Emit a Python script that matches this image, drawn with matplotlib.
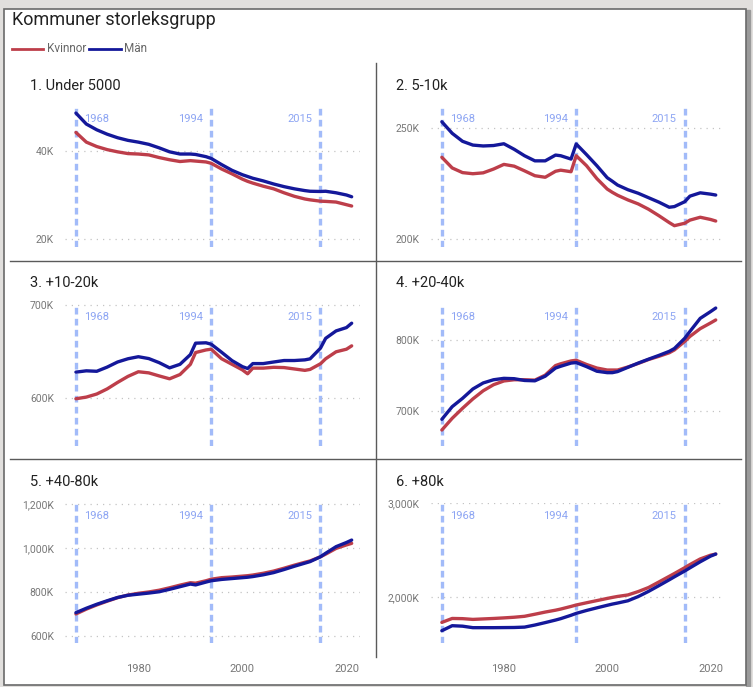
import matplotlib.pyplot as plt
from matplotlib.patches import Rectangle
from matplotlib.lines import Line2D
from matplotlib.ticker import FuncFormatter

plt.rcParams['font.family'] = ['Roboto', 'DejaVu Sans']

# data, values in thousands
years = [1968, 1970, 1972, 1974, 1976, 1978, 1980, 1982, 1984, 1986, 1988, 1990, 1991,
         1993, 1994, 1996, 1998, 2000, 2001, 2002, 2004, 2006, 2008, 2010, 2012, 2013,
         2015, 2016, 2018, 2020, 2021]

titles = ["1. Under 5000", "2. 5-10k", "3. +10-20k", "4. +20-40k", "5. +40-80k", "6. +80k"]

men_1 = [48.6, 46.1, 44.8, 43.8, 43.0, 42.4, 42.0, 41.5, 40.7, 39.8, 39.3, 39.3, 39.2,
         38.7, 38.3, 36.9, 35.6, 34.6, 34.2, 33.8, 33.2, 32.5, 31.9, 31.4, 31.0, 30.85,
         30.8, 30.85, 30.5, 30.0, 29.6]
women_1 = [44.2, 42.0, 41.0, 40.3, 39.8, 39.4, 39.3, 39.1, 38.5, 38.0, 37.6, 37.8, 37.7,
           37.5, 37.2, 35.9, 34.8, 33.6, 33.1, 32.7, 32.0, 31.4, 30.5, 29.7, 29.1, 28.9,
           28.6, 28.55, 28.4, 27.8, 27.5]

men_2 = [252.8, 247.6, 244.0, 242.3, 241.9, 242.1, 242.9, 240.4, 237.5, 235.2, 235.2, 237.8,
         237.5, 236.0, 242.8, 238.0, 233.0, 227.6, 226.0, 224.3, 222.2, 220.6, 218.6, 216.6,
         214.3, 214.6, 216.8, 219.3, 220.8, 220.2, 219.8]
women_2 = [236.8, 232.0, 229.9, 229.4, 229.8, 231.5, 233.6, 232.8, 230.7, 228.5, 227.8, 230.5,
           231.0, 230.3, 237.5, 233.0, 227.2, 222.5, 221.0, 219.7, 217.6, 215.8, 213.4, 210.5,
           207.4, 206.0, 207.1, 208.5, 209.8, 208.8, 208.1]

men_3 = [627.6, 629.0, 628.5, 633.0, 638.5, 642.0, 644.2, 642.2, 637.8, 632.2, 636.0, 646.5,
         658.8, 659.2, 657.7, 649.0, 640.0, 633.5, 631.5, 636.8, 636.8, 638.5, 640.1, 640.1,
         640.8, 641.9, 653.4, 664.0, 672.0, 675.6, 680.3]
women_3 = [598.9, 600.7, 604.0, 609.5, 616.5, 623.0, 628.0, 626.8, 623.5, 620.4, 625.0, 636.0,
           648.7, 651.5, 652.3, 642.0, 636.0, 630.0, 625.8, 631.9, 631.9, 632.8, 632.5, 631.0,
           629.5, 630.5, 636.6, 642.0, 649.5, 652.3, 655.9]

men_4 = [688.3, 706.1, 717.8, 731.0, 739.5, 744.0, 746.0, 745.5, 743.0, 742.5, 749.0, 760.5,
         763.0, 767.5, 768.2, 762.5, 756.0, 754.0, 754.0, 755.5, 761.5, 767.5, 773.0, 778.3,
         784.0, 788.0, 802.4, 812.0, 830.5, 840.0, 845.0]
women_4 = [673.2, 689.7, 703.8, 717.0, 728.5, 737.0, 742.3, 744.0, 744.0, 743.5, 750.5, 764.0,
           766.5, 770.5, 771.5, 765.5, 760.5, 757.7, 757.7, 757.7, 762.0, 767.0, 772.5, 777.0,
           782.0, 786.0, 798.0, 805.0, 816.0, 824.0, 828.2]

men_5 = [706, 726, 744, 760, 775, 785, 790, 795, 801, 812, 824, 836, 832, 845, 851, 857, 861,
         865, 867, 870, 878, 888, 902, 917, 931, 938, 960, 976, 1006, 1025, 1036]
women_5 = [700, 722, 741, 758, 774, 786, 794, 800, 808, 819, 831, 842, 840, 851, 858, 865, 868,
           872, 874, 877, 885, 895, 908, 922, 935, 941, 960, 972, 998, 1014, 1021]

men_6 = [1642, 1695, 1690, 1674, 1674, 1674, 1675, 1676, 1680, 1702, 1728, 1755, 1770, 1806,
         1826, 1857, 1885, 1912, 1925, 1936, 1960, 2005, 2060, 2121, 2183, 2215, 2277, 2310,
         2375, 2435, 2457]
women_6 = [1730, 1772, 1770, 1762, 1767, 1772, 1778, 1785, 1795, 1817, 1840, 1860, 1872, 1900,
           1915, 1939, 1962, 1985, 1996, 2006, 2022, 2058, 2101, 2160, 2220, 2250, 2312, 2345,
           2405, 2445, 2457]

men = [men_1, men_2, men_3, men_4, men_5, men_6]
women = [women_1, women_2, women_3, women_4, women_5, women_6]

y_limits = [(18.2, 50.2), (196.4, 259.9), (548, 701), (650.7, 850.7), (568, 1204.5), (1511, 3000)]
y_ticks = [[20, 40], [200, 250], [600, 700], [700, 800], [600, 800, 1000, 1200], [2000, 3000]]

marker_years = [1968, 1994, 2015]
x_ticks = [1980, 2000, 2020]

RED = "#BD3E4A"
BLUE = "#14189A"
VLINE = "#A2BBF9"
VTEXT = "#8DA5F3"

W, H = 753, 687
fig = plt.figure(figsize=(W / 100, H / 100), dpi=100)
fig.patch.set_facecolor("#E1DFDD")


def px_rect(left, top, right, bottom):
    return [left / W, 1 - bottom / H, (right - left) / W, (bottom - top) / H]


# white card with frame and a little shadow on the right
bg = fig.add_axes([0, 0, 1, 1])
bg.set_xlim(0, W)
bg.set_ylim(H, 0)
bg.axis("off")
bg.add_patch(Rectangle((746, 10), 4, 676, color="#9a9a9a", zorder=0))
bg.add_patch(Rectangle((4.5, 8.5), 742, 676.5, facecolor="white", edgecolor="#6a6a6a", lw=1.2, zorder=1))
# panel dividers
bg.add_line(Line2D([376, 376], [63, 657], color="#5a5a5a", lw=1.0, zorder=2))
bg.add_line(Line2D([10, 741], [261, 261], color="#5a5a5a", lw=1.0, zorder=2))
bg.add_line(Line2D([10, 741], [459, 459], color="#5a5a5a", lw=1.0, zorder=2))

fig.text(12 / W, 1 - 20 / H, "Kommuner storleksgrupp", fontsize=13, color="#222222", va="center")
bg.add_line(Line2D([12, 43], [49, 49], color=RED, lw=2, zorder=3))
bg.text(47, 49, "Kvinnor", fontsize=8.5, color="#666666", va="center", zorder=3)
bg.add_line(Line2D([89, 121], [49, 49], color=BLUE, lw=2, zorder=3))
bg.text(124, 49, "Män", fontsize=8.5, color="#666666", va="center", zorder=3)

col_x = [(65, 360), (431, 724)]
row_y = [(106, 247), (304, 446), (503, 643)]
title_y = [86, 283, 482]
title_x = [30, 396]

k_fmt = FuncFormatter(lambda v, pos: "{:,.0f}K".format(v))

for i in range(6):
    r, c = divmod(i, 2)
    ax = fig.add_axes(px_rect(col_x[c][0], row_y[r][0], col_x[c][1], row_y[r][1]))
    ax.set_facecolor("none")
    for s in ax.spines.values():
        s.set_visible(False)
    ax.set_xlim(1965.9, 2022.6)
    ax.set_ylim(*y_limits[i])
    ax.set_yticks(y_ticks[i])
    ax.yaxis.set_major_formatter(k_fmt)
    ax.tick_params(axis="y", length=0, pad=8, labelsize=7.5, labelcolor="#777777")
    ax.grid(axis="y", color="#c4c4c4", linestyle=(0, (1, 4)), lw=0.9)
    if r == 2:
        ax.set_xticks(x_ticks)
        ax.tick_params(axis="x", length=0, pad=15, labelsize=8, labelcolor="#777777")
    else:
        ax.set_xticks([])

    for j, yr in enumerate(marker_years):
        ax.axvline(yr, color=VLINE, lw=2.4, linestyle=(0, (2, 1.3)), zorder=1)
        if j == 0:
            ax.annotate(str(yr), (yr, 1), xycoords=("data", "axes fraction"),
                        xytext=(8, -13), textcoords="offset pixels",
                        ha="left", va="center", fontsize=8, color=VTEXT)
        else:
            ax.annotate(str(yr), (yr, 1), xycoords=("data", "axes fraction"),
                        xytext=(-8, -13), textcoords="offset pixels",
                        ha="right", va="center", fontsize=8, color=VTEXT)

    ax.plot(years, women[i], color=RED, lw=2.4, zorder=3, solid_capstyle="round")
    ax.plot(years, men[i], color=BLUE, lw=2.4, zorder=4, solid_capstyle="round")

    fig.text(title_x[c] / W, 1 - title_y[r] / H, titles[i], fontsize=10.5,
             color="#222222", va="center")

fig.savefig("out.png", dpi=100, facecolor=fig.get_facecolor())
